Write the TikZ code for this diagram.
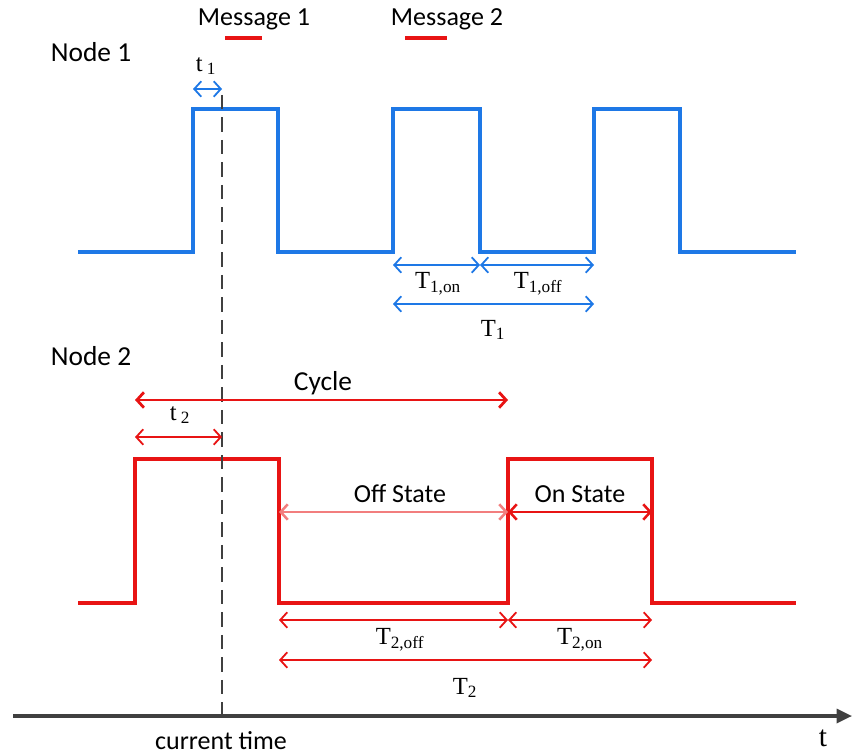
\documentclass[tikz,border=0pt]{standalone}
\usepackage{fontspec}
\setmainfont{Carlito}
\newfontfamily\tmsfont{Liberation Serif}
\usetikzlibrary{arrows.meta}
\definecolor{sigblue}{RGB}{30,120,230}
\definecolor{sigred}{RGB}{232,20,20}
\definecolor{axisgray}{RGB}{64,64,64}

\begin{document}
\begin{tikzpicture}[x=0.025cm,y=-0.025cm,
	wave/.style={line width=2.8pt,line join=miter},
	dim/.style={<->,line width=1.3pt,>={Straight Barb[length=5pt,width=11pt]}},
	lbl/.style={inner sep=0pt,font=\fontsize{18.5}{22}\selectfont},
	big lbl/.style={inner sep=0pt,font=\fontsize{19.5}{23}\selectfont},
	tlbl/.style={inner sep=0pt,font=\tmsfont\fontsize{17.5}{20}\selectfont}]
	\useasboundingbox (0,0) rectangle (856,755);

	% Coordinates
	  \coordinate (B1) at (193,89);  \coordinate (Ct) at (222,89);
	  \coordinate (B2) at (393,265); \coordinate (B3) at (480,265); \coordinate (B4) at (594,265);
	  \coordinate (B5) at (393,304); \coordinate (B6) at (594,304);
	  \coordinate (R1) at (135,400); \coordinate (R2) at (508,400);
	  \coordinate (R3) at (135,437); \coordinate (Cr) at (222,437);
	  \coordinate (R4) at (279,512); \coordinate (R5) at (508,512); \coordinate (R6) at (652,512);
	  \coordinate (R7) at (279,620); \coordinate (R8) at (508,620); \coordinate (R9) at (652,620);
	  \coordinate (R10) at (279,660); \coordinate (R11) at (652,660);
	  \coordinate (Dtop) at (222,95); \coordinate (Dbot) at (222,716);
	  \coordinate (A0) at (13,716);  \coordinate (A1) at (852,716);
	  \coordinate (M1a) at (225,38); \coordinate (M1b) at (262,38);
	  \coordinate (M2a) at (405,38); \coordinate (M2b) at (447,38);

	% Nodes
	  \node[big lbl] (node1) at (91,52) {Node 1};
	  \node[big lbl] (node2) at (91,356) {Node 2};
	  \node[lbl] (msg1) at (254,19) {Message 1};
	  \node[lbl] (msg2) at (447,19) {Message 2};
	  \node[tlbl] (t1) at (206,66) {t\,\textsubscript{1}};
	  \node[tlbl] (T1on) at (438,284) {T\textsubscript{1,on}};
	  \node[tlbl] (T1off) at (538,284) {T\textsubscript{1,off}};
	  \node[tlbl] (T1) at (493,330) {T\textsubscript{1}};
	  \node[big lbl] (cycle) at (323,383) {Cycle};
	  \node[tlbl] (t2) at (180,415) {t\,\textsubscript{2}};
	  \node[lbl] (off) at (400,494) {Off State};
	  \node[lbl] (on) at (580,494) {On State};
	  \node[tlbl] (T2off) at (400,640) {T\textsubscript{2,off}};
	  \node[tlbl] (T2on) at (580,640) {T\textsubscript{2,on}};
	  \node[tlbl] (T2) at (465,688) {T\textsubscript{2}};
	  \node[lbl] (now) at (221,741) {current time};
	  \node[inner sep=0pt,font=\tmsfont\fontsize{21}{23}\selectfont] (tax) at (823,738) {t};

	% Waveforms
	  \draw[wave,sigblue] (78,252) -- (193,252) -- (193,109) -- (278,109) -- (278,252)
	    -- (393,252) -- (393,109) -- (480,109) -- (480,252) -- (594,252) -- (594,109)
	    -- (680,109) -- (680,252) -- (796,252);
	  \draw[wave,sigred] (78,603) -- (135,603) -- (135,459) -- (279,459) -- (279,603)
	    -- (508,603) -- (508,459) -- (652,459) -- (652,603) -- (796,603);

	% Edges
	  \draw[axisgray,line width=1pt,dash pattern=on 10pt off 6pt] (Dtop) -- (Dbot);
	  \draw[line width=2.2pt,axisgray,-{Triangle[length=11pt,width=10pt]}] (A0) -- (A1);
	  \draw[line width=2.2pt,sigred] (M1a) -- (M1b);
	  \draw[line width=2.2pt,sigred] (M2a) -- (M2b);
	  \draw[dim,sigblue] (B1) -- (Ct);
	  \draw[dim,sigblue] (B2) -- (B3);
	  \draw[dim,sigblue] (B3) -- (B4);
	  \draw[dim,sigblue] (B5) -- (B6);
	  \draw[dim,sigred,line width=2pt] (R1) -- (R2);
	  \draw[dim,sigred] (R3) -- (Cr);
	  \draw[dim,sigred!55,line width=1.8pt] (R4) -- (R5);
	  \draw[dim,sigred,line width=1.8pt] (R5) -- (R6);
	  \draw[dim,sigred] (R7) -- (R8);
	  \draw[dim,sigred] (R8) -- (R9);
	  \draw[dim,sigred] (R10) -- (R11);
\end{tikzpicture}
\end{document}
